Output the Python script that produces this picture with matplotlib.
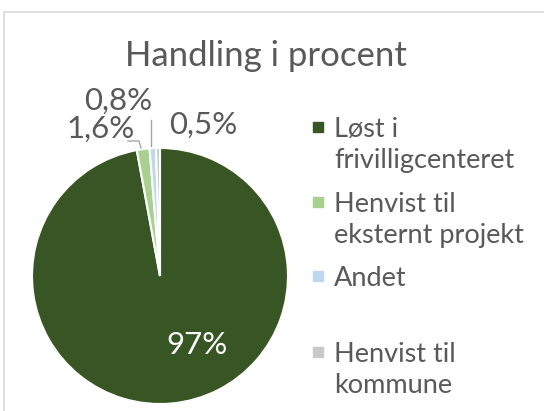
import numpy as np
import matplotlib
matplotlib.use('Agg')
import matplotlib.pyplot as plt
from matplotlib.patches import Rectangle

titel = 'Handling i procent'
kategorier = ['Løst i\nfrivilligcenteret', 'Henvist til\neksternt projekt', 'Andet', 'Henvist til\nkommune']
andele = [97.0, 1.6, 0.8, 0.5]
etiketter = ['97%', '1,6%', '0,8%', '0,5%']
farver = ['#375623', '#a9d18e', '#bdd7ee', '#c9c9c9']

W, H = 544, 411
tekstfarve = '#595959'
plt.rcParams['font.family'] = ['Lato', 'DejaVu Sans']

fig = plt.figure(figsize=(W/100, H/100), dpi=100)

# ramme
fig.patches.append(Rectangle((4/W, -0.1), 1.0, (H-12)/H + 0.1, transform=fig.transFigure,
                             fill=False, edgecolor='#d9d9d9', linewidth=1.2))

# pie: centrum (160,276), radius 128 pixels
cx, cy, r = 160, 276, 128
ax = fig.add_axes([(cx-r)/W, (H-cy-r)/H, 2*r/W, 2*r/H])
ax.pie(andele, colors=farver, startangle=90, counterclock=False,
       wedgeprops=dict(edgecolor='white', linewidth=1.5))
ax.set_xlim(-1, 1)
ax.set_ylim(-1, 1)
ax.set_aspect('equal')
ax.axis('off')

def px(x, y):
    return x/W, 1 - y/H

fig.text(*px(266, 56), titel, ha='center', va='center', fontsize=25, color=tekstfarve)

# dataetiketter
fs = 22.5
fig.text(*px(197, 345), etiketter[0], ha='center', va='center', fontsize=fs, color='white')
fig.text(*px(101, 129), etiketter[1], ha='center', va='center', fontsize=fs, color=tekstfarve)
fig.text(*px(118, 101), etiketter[2], ha='center', va='center', fontsize=fs, color=tekstfarve)
fig.text(*px(203, 125), etiketter[3], ha='center', va='center', fontsize=fs, color=tekstfarve)

# ledelinjer
fig.lines.append(plt.Line2D([128/W, 139/W, 141/W], [1-141/H, 1-141/H, 1-148/H],
                            transform=fig.transFigure, color='#a6a6a6', linewidth=1))
fig.lines.append(plt.Line2D([151/W, 151/W], [1-120/H, 1-146/H],
                            transform=fig.transFigure, color='#a6a6a6', linewidth=1))

# legende
legende_y = [127, 202, 276, 352]
for navn, farve, y in zip(kategorier, farver, legende_y):
    fig.patches.append(Rectangle(((318-5)/W, 1-(y+5)/H), 10/W, 10/H, transform=fig.transFigure,
                                 color=farve))
    fig.text(*px(334, y - 10), navn, ha='left', va='top', fontsize=19.5, color=tekstfarve,
             linespacing=1.3)

fig.savefig('out.png', dpi=100)
